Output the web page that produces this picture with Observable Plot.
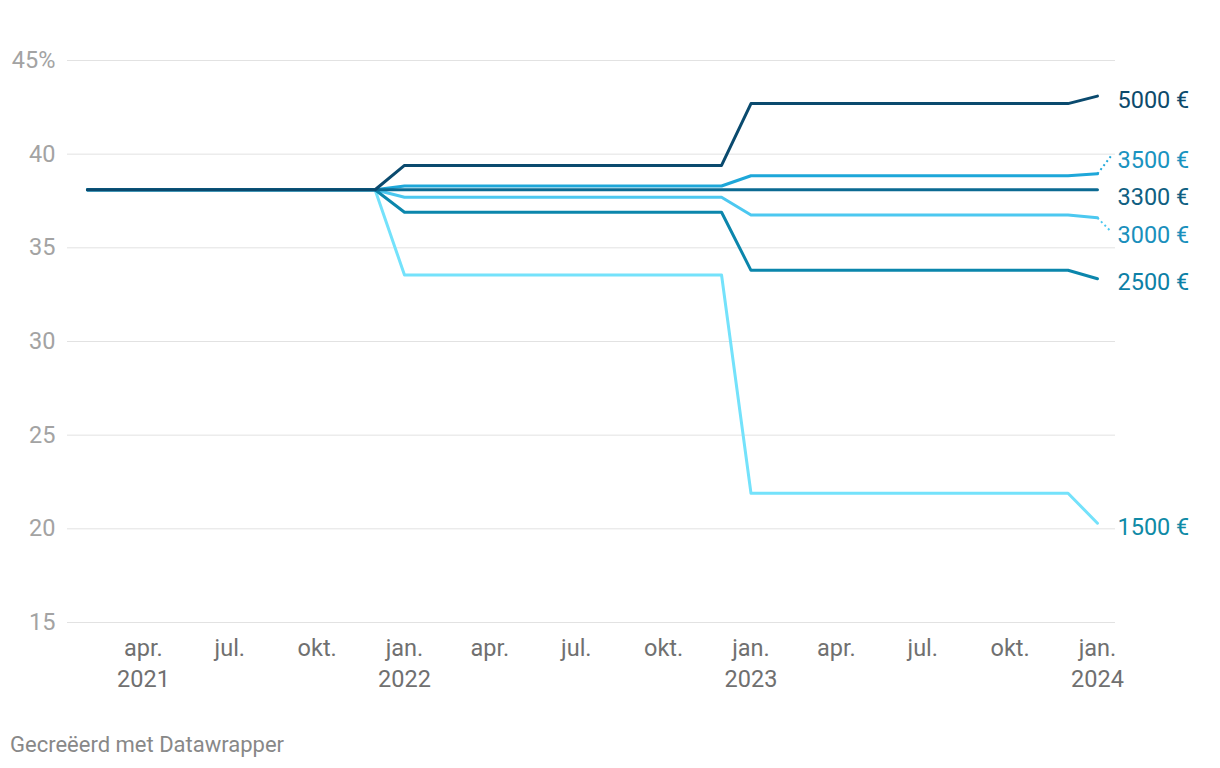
<!DOCTYPE html>
<html><head><meta charset="utf-8">
<script src="https://cdn.jsdelivr.net/npm/d3@7"></script>
<script src="https://cdn.jsdelivr.net/npm/@observablehq/plot@0.6"></script>
<style>
body{margin:0;background:#fff;font-family:Roboto,sans-serif;}
#chart{position:relative;width:1220px;height:768px;overflow:hidden;}
#footer{position:absolute;left:10px;top:732px;font-size:22px;color:#888;font-family:Roboto,sans-serif;}
</style></head><body>
<div id="chart"><div id="plot"></div><div id="footer">Gecreëerd met Datawrapper</div></div>
<script>
// ---- data ----
const dates = ["2021-02-01","2021-12-01","2022-01-01","2022-12-01","2023-01-01","2023-12-01","2024-01-01"];
const seriesNames = ["5000 €","3500 €","3300 €","3000 €","2500 €","1500 €"];
const v5000 = [38.1,38.1,39.4,39.4,42.7,42.7,43.1];
const v3500 = [38.1,38.1,38.3,38.3,38.85,38.85,38.95];
const v3300 = [38.1,38.1,38.1,38.1,38.1,38.1,38.1];
const v3000 = [38.1,38.1,37.7,37.7,36.75,36.75,36.6];
const v2500 = [38.1,38.1,36.9,36.9,33.8,33.8,33.35];
const v1500 = [38.1,38.1,33.55,33.55,21.9,21.9,20.3];
const yTicks = [15,20,25,30,35,40,45];
const xTickDates = ["2021-04-01","2021-07-01","2021-10-01","2022-01-01","2022-04-01","2022-07-01","2022-10-01","2023-01-01","2023-04-01","2023-07-01","2023-10-01","2024-01-01"];
const monthNames = {0:"jan.",3:"apr.",6:"jul.",9:"okt."};

// ---- styles ----
const lineColors = {"5000 €":"#0a4a6e","3500 €":"#1ea7d9","3300 €":"#0b6a92","3000 €":"#4cc8f0","2500 €":"#0b86ac","1500 €":"#74e2fb"};
const labelColors = {"5000 €":"#0d4a6c","3500 €":"#1a93c0","3300 €":"#105f82","3000 €":"#1a8fbc","2500 €":"#0d80a6","1500 €":"#0f8aa6"};
const drawOrder = ["1500 €","3000 €","3500 €","2500 €","3300 €","5000 €"];

const valuesBy = {"5000 €":v5000,"3500 €":v3500,"3300 €":v3300,"3000 €":v3000,"2500 €":v2500,"1500 €":v1500};
const parsed = dates.map(d => new Date(d));
const series = seriesNames.map(name => ({
  name,
  rows: parsed.map((d,i) => ({date:d, value:valuesBy[name][i]}))
}));

// label placement (simple collision avoidance)
const gap = 2.0;
const lastDate = parsed[parsed.length-1];
let ends = series.map(s => ({name:s.name, value:s.rows[s.rows.length-1].value})).sort((a,b)=>b.value-a.value);
let clusters = ends.map(e => ({items:[e]}));
function layout(c){
  const n = c.items.length;
  const center = d3.mean(c.items, d=>d.value);
  c.items.forEach((it,i)=> it.pos = center + gap*((n-1)/2 - i));
}
let changed = true;
while(changed){
  changed = false;
  clusters.forEach(layout);
  for(let i=0;i<clusters.length-1;i++){
    const a = clusters[i], b = clusters[i+1];
    if (a.items[a.items.length-1].pos - b.items[0].pos < gap){
      clusters.splice(i,2,{items:a.items.concat(b.items)});
      changed = true; break;
    }
  }
}
const leaderEnd = d3.utcDay.offset(lastDate, 14);

const marks = [
  Plot.ruleY(yTicks, {stroke:"#e2e2e2", strokeWidth:1}),
  Plot.axisY(yTicks, {tickSize:0, tickPadding:12, color:"#a3a3a3", fontSize:23.5, label:null,
    tickFormat: d => d === 45 ? "45%" : String(d)}),
  Plot.axisX(xTickDates.map(d=>new Date(d)), {tickSize:0, tickPadding:12, color:"#707070", fontSize:23.5, label:null, lineHeight:1.3,
    tickFormat: (d,i) => { const m = d.getUTCMonth(); const y = d.getUTCFullYear();
      return (m===0 || i===0) ? monthNames[m] + "\n" + y : monthNames[m]; }})
];
for (const name of drawOrder){
  const s = series.find(t=>t.name===name);
  marks.push(Plot.line(s.rows, {x:"date", y:"value", stroke:lineColors[name], strokeWidth:3}));
}
for (const e of ends){
  if (Math.abs(e.pos - e.value) > 0.4){
    marks.push(Plot.link([e], {x1:()=>lastDate, y1:"value", x2:()=>leaderEnd, y2:"pos",
      stroke:lineColors[e.name], strokeWidth:2, strokeDasharray:"2,3"}));
  }
  marks.push(Plot.text([e], {x:()=>lastDate, y:"pos", text:"name", fill:labelColors[e.name],
    dx:20, dy:4, textAnchor:"start", fontSize:23.5}));
}

const chart = Plot.plot({
  width:1220, height:700,
  marginLeft:67, marginRight:105, marginTop:60, marginBottom:78,
  style:{fontFamily:"Roboto, sans-serif", background:"#fff", overflow:"visible"},
  x:{type:"utc", domain:[new Date("2021-01-11"), new Date("2024-01-20")]},
  y:{domain:[15,45]},
  marks
});
document.getElementById("plot").appendChild(chart);
</script>
</body></html>
